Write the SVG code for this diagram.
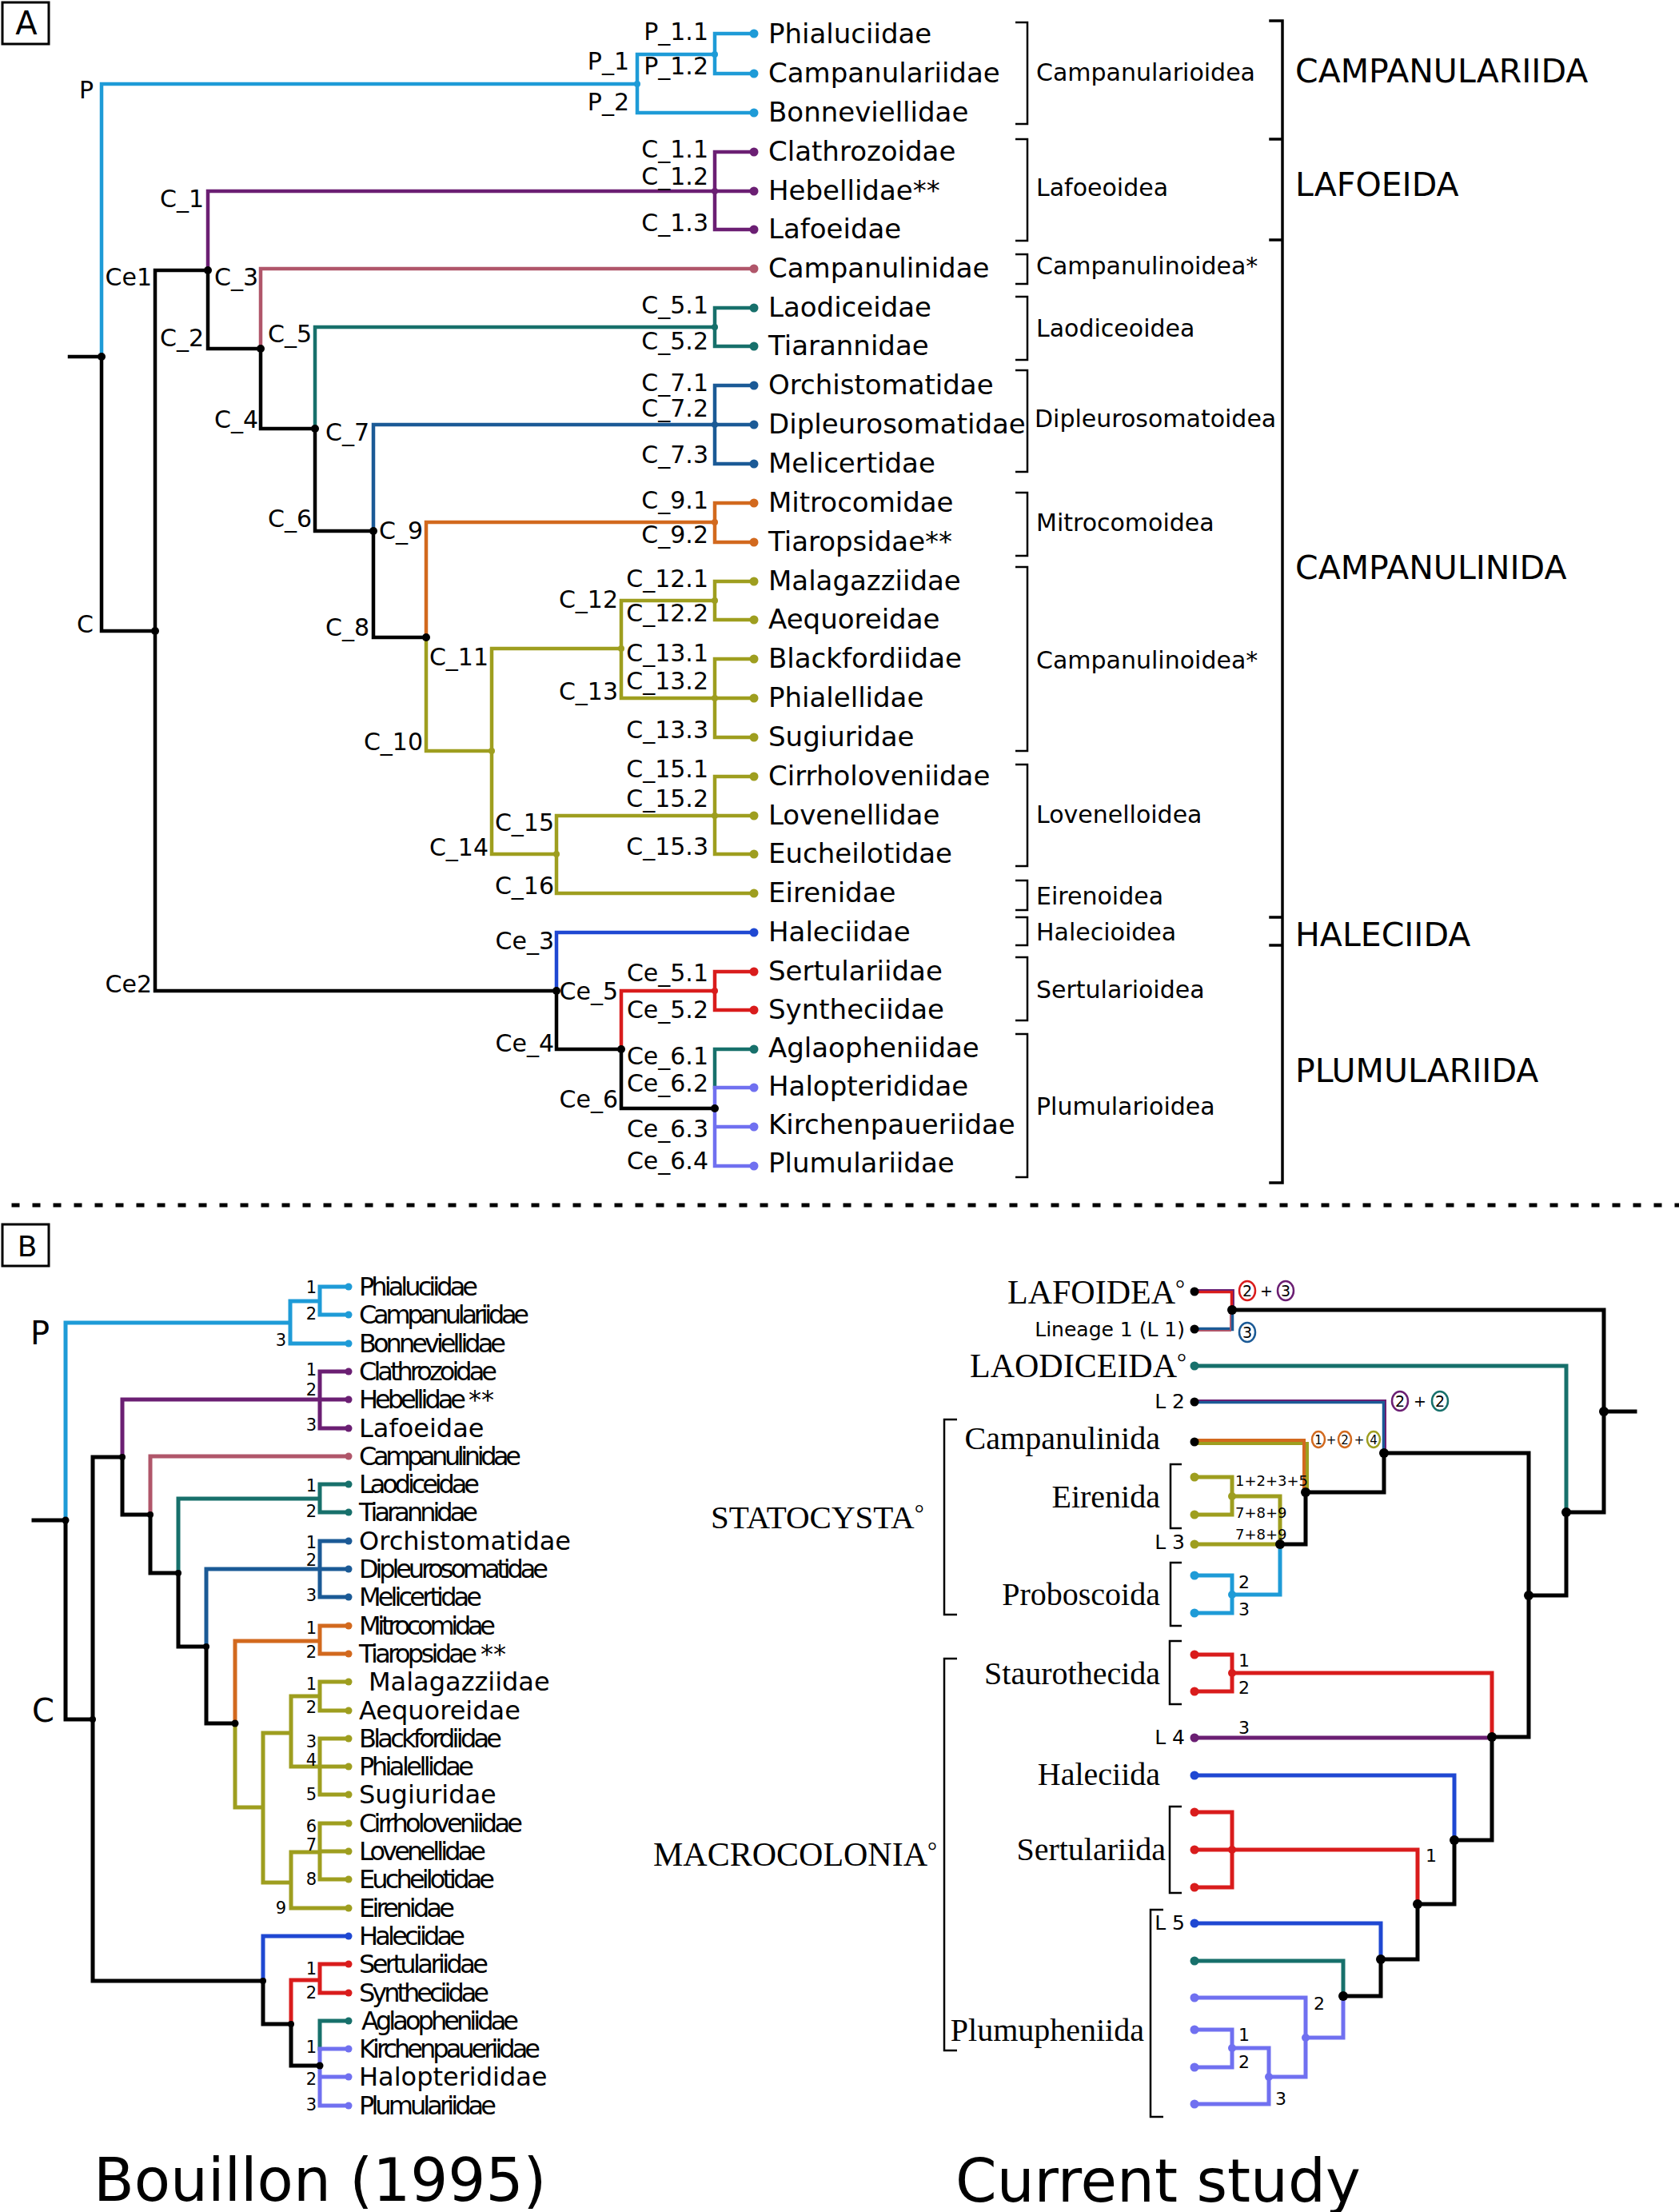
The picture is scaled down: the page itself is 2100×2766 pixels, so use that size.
<svg xmlns="http://www.w3.org/2000/svg" width="2100" height="2766" viewBox="0 0 2100 2766">
<style>
text{font-family:"DejaVu Sans",sans-serif;fill:#000}
.tip{font-size:34px}
.nl{font-size:30px;text-anchor:end}
.sf{font-size:30px}
.ord{font-size:41px}
.bl{font-size:32px}
.num{font-size:21px;text-anchor:end}
.sr{font-family:"Liberation Serif","Times New Roman",serif;font-size:40px}
.srC{font-family:"Liberation Serif","Times New Roman",serif;font-size:42px}
.dg{font-size:30px}
.ln{font-size:25px;text-anchor:end}
.big{font-size:74px}
.cn{font-size:19px;text-anchor:middle}
.cs{font-size:15px;text-anchor:middle}
.sm{font-size:18px}
.d22{font-size:22px}
path{fill:none;stroke-linejoin:miter;stroke-linecap:square}
.a{stroke-width:4.5}
.b{stroke-width:5}
.r{stroke-width:5}
.br{stroke:#000;stroke-width:2.5;stroke-linecap:butt}
.k{stroke:#000}.cy{stroke:#1e9bd7}.pu{stroke:#6b1f73}.pk{stroke:#b0566a}.te{stroke:#17706b}.db{stroke:#1b5a96}.or{stroke:#d2691e}.ol{stroke:#9e9e1f}.bu{stroke:#1f48d2}.rd{stroke:#d91c1c}.lv{stroke:#7070f0}
.fk{fill:#000}.fcy{fill:#1e9bd7}.fpu{fill:#6b1f73}.fpk{fill:#b0566a}.fte{fill:#17706b}.fdb{fill:#1b5a96}.for{fill:#d2691e}.fol{fill:#9e9e1f}.fbu{fill:#1f48d2}.frd{fill:#d91c1c}.flv{fill:#7070f0}
.circ{fill:none;stroke-width:2.5}
</style>

<!-- ================= PANEL A ================= -->
<g id="panelA-label">
<rect x="3" y="3" width="58" height="52" fill="none" stroke="#000" stroke-width="3"/>
<text x="33" y="43" style="font-size:40px" text-anchor="middle">A</text>
</g>

<g id="connectorsA">
<path class="a k" d="M87 446 H127 M127 446 V789 H194 M260 338 H194 V1239 H696 M260 338 V436 H326 M326 436 V536 H394 M394 536 V664 H467 M467 664 V797 H533 M696 1239 V1312 H777 M777 1312 V1386 H894"/>
<path class="a cy" d="M127 446 V105 H797 M797 68 V141 H943 M797 68 H894 M943 42 H894 V92 H943"/>
<path class="a pu" d="M260 338 V239 H943 M943 190 H894 V287 H943"/>
<path class="a pk" d="M326 436 V336 H943"/>
<path class="a te" d="M394 536 V409 H894 M943 385 H894 V433 H943"/>
<path class="a db" d="M467 664 V531 H943 M943 482 H894 V580 H943"/>
<path class="a or" d="M533 797 V653 H894 M943 629 H894 V678 H943"/>
<path class="a ol" d="M533 797 V939 H615 M615 811 V1068 H696 M615 811 H777 M777 751 V873 H943 M777 751 H894 M943 727 H894 V775 H943 M943 824 H894 V922 H943 M696 1020 V1117 H943 M696 1020 H943 M943 971 H894 V1068 H943"/>
<path class="a bu" d="M696 1239 V1166 H943"/>
<path class="a rd" d="M777 1312 V1239 H894 M943 1215 H894 V1263 H943"/>
<path class="a te" d="M943 1312 H894 V1360"/>
<path class="a lv" d="M894 1360 V1458 H943 M894 1360 H943 M894 1409 H943"/>
<g class="fk"><circle cx="127" cy="446" r="5"/><circle cx="194" cy="789" r="5"/><circle cx="260" cy="338" r="5"/><circle cx="326" cy="436" r="5"/><circle cx="394" cy="536" r="5"/><circle cx="467" cy="664" r="5"/><circle cx="533" cy="797" r="5"/><circle cx="696" cy="1239" r="5"/><circle cx="777" cy="1312" r="5"/><circle cx="894" cy="1386" r="5"/></g>
<circle class="fcy" cx="797" cy="105" r="4"/><circle class="fcy" cx="894" cy="68" r="4"/>
<circle class="fpu" cx="894" cy="239" r="4"/><circle class="fte" cx="894" cy="409" r="4"/>
<circle class="fdb" cx="894" cy="531" r="4"/><circle class="for" cx="894" cy="653" r="4"/>
<g class="fol"><circle cx="777" cy="811" r="4"/><circle cx="894" cy="751" r="4"/><circle cx="894" cy="873" r="4"/><circle cx="615" cy="939" r="4"/><circle cx="696" cy="1068" r="4"/><circle cx="894" cy="1020" r="4"/></g>
<circle class="frd" cx="894" cy="1239" r="4"/>
</g>

<g id="nodelabelsA">
<text class="nl" x="117" y="123">P</text>
<text class="nl" x="787" y="87">P_1</text>
<text class="nl" x="787" y="138">P_2</text>
<text class="nl" x="886" y="50">P_1.1</text>
<text class="nl" x="886" y="93">P_1.2</text>
<text class="nl" x="255" y="259">C_1</text>
<text class="nl" x="886" y="197">C_1.1</text>
<text class="nl" x="886" y="231">C_1.2</text>
<text class="nl" x="886" y="289">C_1.3</text>
<text class="nl" x="190" y="357">Ce1</text>
<text class="nl" x="323" y="357">C_3</text>
<text class="nl" x="255" y="433">C_2</text>
<text class="nl" x="390" y="428">C_5</text>
<text class="nl" x="886" y="392">C_5.1</text>
<text class="nl" x="886" y="437">C_5.2</text>
<text class="nl" x="323" y="535">C_4</text>
<text class="nl" x="462" y="551">C_7</text>
<text class="nl" x="886" y="489">C_7.1</text>
<text class="nl" x="886" y="521">C_7.2</text>
<text class="nl" x="886" y="579">C_7.3</text>
<text class="nl" x="390" y="659">C_6</text>
<text class="nl" x="529" y="674">C_9</text>
<text class="nl" x="886" y="636">C_9.1</text>
<text class="nl" x="886" y="679">C_9.2</text>
<text class="nl" x="773" y="760">C_12</text>
<text class="nl" x="886" y="734">C_12.1</text>
<text class="nl" x="886" y="777">C_12.2</text>
<text class="nl" x="117" y="791">C</text>
<text class="nl" x="462" y="795">C_8</text>
<text class="nl" x="611" y="832">C_11</text>
<text class="nl" x="886" y="827">C_13.1</text>
<text class="nl" x="773" y="875">C_13</text>
<text class="nl" x="886" y="862">C_13.2</text>
<text class="nl" x="886" y="923">C_13.3</text>
<text class="nl" x="529" y="938">C_10</text>
<text class="nl" x="886" y="972">C_15.1</text>
<text class="nl" x="886" y="1009">C_15.2</text>
<text class="nl" x="693" y="1039">C_15</text>
<text class="nl" x="611" y="1070">C_14</text>
<text class="nl" x="886" y="1069">C_15.3</text>
<text class="nl" x="693" y="1118">C_16</text>
<text class="nl" x="693" y="1187">Ce_3</text>
<text class="nl" x="886" y="1227">Ce_5.1</text>
<text class="nl" x="773" y="1250">Ce_5</text>
<text class="nl" x="190" y="1241">Ce2</text>
<text class="nl" x="886" y="1273">Ce_5.2</text>
<text class="nl" x="693" y="1315">Ce_4</text>
<text class="nl" x="886" y="1331">Ce_6.1</text>
<text class="nl" x="886" y="1365">Ce_6.2</text>
<text class="nl" x="773" y="1385">Ce_6</text>
<text class="nl" x="886" y="1422">Ce_6.3</text>
<text class="nl" x="886" y="1462">Ce_6.4</text>
</g>

<g id="tipsA">
<g id="A-t0"><circle class="fcy" cx="943" cy="42" r="5.5"/><text class="tip" x="961" y="54">Phialuciidae</text></g>
<g id="A-t1"><circle class="fcy" cx="943" cy="92" r="5.5"/><text class="tip" x="961" y="103">Campanulariidae</text></g>
<g id="A-t2"><circle class="fcy" cx="943" cy="141" r="5.5"/><text class="tip" x="961" y="152">Bonneviellidae</text></g>
<g id="A-t3"><circle class="fpu" cx="943" cy="190" r="5.5"/><text class="tip" x="961" y="201">Clathrozoidae</text></g>
<g id="A-t4"><circle class="fpu" cx="943" cy="239" r="5.5"/><text class="tip" x="961" y="250">Hebellidae**</text></g>
<g id="A-t5"><circle class="fpu" cx="943" cy="287" r="5.5"/><text class="tip" x="961" y="298">Lafoeidae</text></g>
<g id="A-t6"><circle class="fpk" cx="943" cy="336" r="5.5"/><text class="tip" x="961" y="347">Campanulinidae</text></g>
<g id="A-t7"><circle class="fte" cx="943" cy="385" r="5.5"/><text class="tip" x="961" y="396">Laodiceidae</text></g>
<g id="A-t8"><circle class="fte" cx="943" cy="433" r="5.5"/><text class="tip" x="961" y="444">Tiarannidae</text></g>
<g id="A-t9"><circle class="fdb" cx="943" cy="482" r="5.5"/><text class="tip" x="961" y="493">Orchistomatidae</text></g>
<g id="A-t10"><circle class="fdb" cx="943" cy="531" r="5.5"/><text class="tip" x="961" y="542">Dipleurosomatidae</text></g>
<g id="A-t11"><circle class="fdb" cx="943" cy="580" r="5.5"/><text class="tip" x="961" y="591">Melicertidae</text></g>
<g id="A-t12"><circle class="for" cx="943" cy="629" r="5.5"/><text class="tip" x="961" y="640">Mitrocomidae</text></g>
<g id="A-t13"><circle class="for" cx="943" cy="678" r="5.5"/><text class="tip" x="961" y="689">Tiaropsidae**</text></g>
<g id="A-t14"><circle class="fol" cx="943" cy="727" r="5.5"/><text class="tip" x="961" y="738">Malagazziidae</text></g>
<g id="A-t15"><circle class="fol" cx="943" cy="775" r="5.5"/><text class="tip" x="961" y="786">Aequoreidae</text></g>
<g id="A-t16"><circle class="fol" cx="943" cy="824" r="5.5"/><text class="tip" x="961" y="835">Blackfordiidae</text></g>
<g id="A-t17"><circle class="fol" cx="943" cy="873" r="5.5"/><text class="tip" x="961" y="884">Phialellidae</text></g>
<g id="A-t18"><circle class="fol" cx="943" cy="922" r="5.5"/><text class="tip" x="961" y="933">Sugiuridae</text></g>
<g id="A-t19"><circle class="fol" cx="943" cy="971" r="5.5"/><text class="tip" x="961" y="982">Cirrholoveniidae</text></g>
<g id="A-t20"><circle class="fol" cx="943" cy="1020" r="5.5"/><text class="tip" x="961" y="1031">Lovenellidae</text></g>
<g id="A-t21"><circle class="fol" cx="943" cy="1068" r="5.5"/><text class="tip" x="961" y="1079">Eucheilotidae</text></g>
<g id="A-t22"><circle class="fol" cx="943" cy="1117" r="5.5"/><text class="tip" x="961" y="1128">Eirenidae</text></g>
<g id="A-t23"><circle class="fbu" cx="943" cy="1166" r="5.5"/><text class="tip" x="961" y="1177">Haleciidae</text></g>
<g id="A-t24"><circle class="frd" cx="943" cy="1215" r="5.5"/><text class="tip" x="961" y="1226">Sertulariidae</text></g>
<g id="A-t25"><circle class="frd" cx="943" cy="1263" r="5.5"/><text class="tip" x="961" y="1274">Syntheciidae</text></g>
<g id="A-t26"><circle class="fte" cx="943" cy="1312" r="5.5"/><text class="tip" x="961" y="1322">Aglaopheniidae</text></g>
<g id="A-t27"><circle class="flv" cx="943" cy="1360" r="5.5"/><text class="tip" x="961" y="1370">Halopterididae</text></g>
<g id="A-t28"><circle class="flv" cx="943" cy="1409" r="5.5"/><text class="tip" x="961" y="1418">Kirchenpaueriidae</text></g>
<g id="A-t29"><circle class="flv" cx="943" cy="1458" r="5.5"/><text class="tip" x="961" y="1466">Plumulariidae</text></g>
</g>

<g id="superfamiliesA">
<path class="br" d="M1270 28 H1285 V155 H1270 M1270 174 H1285 V301 H1270 M1270 318 H1285 V355 H1270 M1270 371 H1285 V450 H1270 M1270 463 H1285 V590 H1270 M1270 616 H1285 V695 H1270 M1270 709 H1285 V939 H1270 M1270 956 H1285 V1083 H1270 M1270 1101 H1285 V1138 H1270 M1270 1147 H1285 V1182 H1270 M1270 1197 H1285 V1276 H1270 M1270 1293 H1285 V1472 H1270"/>
<text class="sf" x="1296" y="101">Campanularioidea</text>
<text class="sf" x="1296" y="245">Lafoeoidea</text>
<text class="sf" x="1296" y="343">Campanulinoidea*</text>
<text class="sf" x="1296" y="421">Laodiceoidea</text>
<text class="sf" x="1294" y="534">Dipleurosomatoidea</text>
<text class="sf" x="1296" y="664">Mitrocomoidea</text>
<text class="sf" x="1296" y="836">Campanulinoidea*</text>
<text class="sf" x="1296" y="1029">Lovenelloidea</text>
<text class="sf" x="1296" y="1131">Eirenoidea</text>
<text class="sf" x="1296" y="1176">Halecioidea</text>
<text class="sf" x="1296" y="1248">Sertularioidea</text>
<text class="sf" x="1296" y="1394">Plumularioidea</text>
</g>

<g id="ordersA">
<path d="M1589 26 H1604 V1479 H1589 M1589 174 H1604 M1589 300 H1604 M1589 1147 H1604 M1589 1182 H1604" stroke="#000" stroke-width="3.5" stroke-linecap="butt"/>
<text class="ord" x="1620" y="103">CAMPANULARIIDA</text>
<text class="ord" x="1620" y="245">LAFOEIDA</text>
<text class="ord" x="1620" y="724">CAMPANULINIDA</text>
<text class="ord" x="1620" y="1183">HALECIIDA</text>
<text class="ord" x="1620" y="1353">PLUMULARIIDA</text>
</g>

<g id="separator">
<path d="M17 1507 H2100" stroke="#000" stroke-width="5" stroke-dasharray="5 21" stroke-linecap="butt"/>
</g>

<!-- ================= PANEL B ================= -->
<g id="panelB-label">
<rect x="3" y="1531" width="58" height="52" fill="none" stroke="#000" stroke-width="3"/>
<text x="34" y="1571" style="font-size:36px" text-anchor="middle">B</text>
</g>

<g id="connectorsB-left">
<path class="b k" d="M42 1901 H82 M82 1901 V2150 H116 M153 1822 H116 V2477 H329 M153 1822 V1894 H188 M188 1894 V1967 H223 M223 1967 V2059 H258 M258 2059 V2155 H294 M329 2477 V2531 H364 M364 2531 V2583 H400"/>
<path class="b cy" d="M82 1901 V1654 H363 M363 1627 V1680 H436 M363 1627 H400 M436 1609 H400 V1644 H436"/>
<path class="b pu" d="M153 1822 V1750 H436 M436 1715 H400 V1786 H436"/>
<path class="b pk" d="M188 1894 V1821 H436"/>
<path class="b te" d="M223 1967 V1874 H400 M436 1856 H400 V1891 H436"/>
<path class="b db" d="M258 2059 V1962 H436 M436 1927 H400 V1997 H436"/>
<path class="b or" d="M294 2155 V2052 H400 M436 2033 H400 V2068 H436"/>
<path class="b ol" d="M294 2155 V2260 H329 M329 2167 V2354 H364 M329 2167 H364 M364 2121 V2209 H436 M364 2121 H400 M436 2103 H400 V2139 H436 M436 2174 H400 V2244 H436 M364 2316 V2386 H436 M364 2316 H400 M436 2280 H400 V2350 H436 M400 2315 H436"/>
<path class="b bu" d="M329 2477 V2421 H436"/>
<path class="b rd" d="M364 2531 V2476 H400 M436 2456 H400 V2492 H436"/>
<path class="b te" d="M436 2527 H400 V2562"/>
<path class="b lv" d="M400 2562 V2633 H436 M400 2562 H436 M400 2597 H436"/>
<g class="fk"><circle cx="82" cy="1901" r="4.5"/><circle cx="116" cy="2150" r="4"/><circle cx="153" cy="1822" r="4"/><circle cx="188" cy="1894" r="4"/><circle cx="223" cy="1967" r="4"/><circle cx="258" cy="2059" r="4"/><circle cx="294" cy="2155" r="4.5"/><circle cx="329" cy="2477" r="4"/><circle cx="364" cy="2531" r="4"/><circle cx="400" cy="2583" r="4.5"/></g>
</g>

<g id="labelsB-left">
<text x="38" y="1681" style="font-size:40px">P</text>
<text x="40" y="2153" style="font-size:40px">C</text>
<text class="num" x="396" y="1617">1</text><text class="num" x="396" y="1650">2</text><text class="num" x="358" y="1683">3</text>
<text class="num" x="396" y="1720">1</text><text class="num" x="396" y="1745">2</text><text class="num" x="396" y="1789">3</text>
<text class="num" x="396" y="1865">1</text><text class="num" x="396" y="1897">2</text>
<text class="num" x="396" y="1936">1</text><text class="num" x="396" y="1958">2</text><text class="num" x="396" y="2002">3</text>
<text class="num" x="396" y="2043">1</text><text class="num" x="396" y="2073">2</text>
<text class="num" x="396" y="2113">1</text><text class="num" x="396" y="2142">2</text>
<text class="num" x="396" y="2185">3</text><text class="num" x="396" y="2208">4</text><text class="num" x="396" y="2251">5</text>
<text class="num" x="396" y="2291">6</text><text class="num" x="396" y="2314">7</text><text class="num" x="396" y="2357">8</text>
<text class="num" x="358" y="2393">9</text>
<text class="num" x="396" y="2469">1</text><text class="num" x="396" y="2499">2</text>
<text class="num" x="396" y="2567">1</text><text class="num" x="396" y="2607">2</text><text class="num" x="396" y="2639">3</text>
</g>

<g id="tipsB-left">
<g id="B-t0"><circle class="fcy" cx="436" cy="1609" r="4.5"/><text class="bl" x="449" y="1620" textLength="149" lengthAdjust="spacing">Phialuciidae</text></g>
<g id="B-t1"><circle class="fcy" cx="436" cy="1644" r="4.5"/><text class="bl" x="449" y="1655" textLength="213" lengthAdjust="spacing">Campanulariidae</text></g>
<g id="B-t2"><circle class="fcy" cx="436" cy="1680" r="4.5"/><text class="bl" x="449" y="1691" textLength="184" lengthAdjust="spacing">Bonneviellidae</text></g>
<g id="B-t3"><circle class="fpu" cx="436" cy="1715" r="4.5"/><text class="bl" x="449" y="1726" textLength="173" lengthAdjust="spacing">Clathrozoidae</text></g>
<g id="B-t4"><circle class="fpu" cx="436" cy="1750" r="4.5"/><text class="bl" x="449" y="1761" textLength="134" lengthAdjust="spacing">Hebellidae</text><text class="bl" x="586" y="1761">**</text></g>
<g id="B-t5"><circle class="fpu" cx="436" cy="1786" r="4.5"/><text class="bl" x="449" y="1797">Lafoeidae</text></g>
<g id="B-t6"><circle class="fpk" cx="436" cy="1821" r="4.5"/><text class="bl" x="449" y="1832" textLength="203" lengthAdjust="spacing">Campanulinidae</text></g>
<g id="B-t7"><circle class="fte" cx="436" cy="1856" r="4.5"/><text class="bl" x="449" y="1867" textLength="151" lengthAdjust="spacing">Laodiceidae</text></g>
<g id="B-t8"><circle class="fte" cx="436" cy="1891" r="4.5"/><text class="bl" x="449" y="1902" textLength="149" lengthAdjust="spacing">Tiarannidae</text></g>
<g id="B-t9"><circle class="fdb" cx="436" cy="1927" r="4.5"/><text class="bl" x="449" y="1938">Orchistomatidae</text></g>
<g id="B-t10"><circle class="fdb" cx="436" cy="1962" r="4.5"/><text class="bl" x="449" y="1973" textLength="237" lengthAdjust="spacing">Dipleurosomatidae</text></g>
<g id="B-t11"><circle class="fdb" cx="436" cy="1997" r="4.5"/><text class="bl" x="449" y="2008" textLength="154" lengthAdjust="spacing">Melicertidae</text></g>
<g id="B-t12"><circle class="for" cx="436" cy="2033" r="4.5"/><text class="bl" x="449" y="2044" textLength="171" lengthAdjust="spacing">Mitrocomidae</text></g>
<g id="B-t13"><circle class="for" cx="436" cy="2068" r="4.5"/><text class="bl" x="449" y="2079" textLength="148" lengthAdjust="spacing">Tiaropsidae</text><text class="bl" x="601" y="2079">**</text></g>
<g id="B-t14"><circle class="fol" cx="436" cy="2103" r="4.5"/><text class="bl" x="461" y="2114">Malagazziidae</text></g>
<g id="B-t15"><circle class="fol" cx="436" cy="2139" r="4.5"/><text class="bl" x="449" y="2150">Aequoreidae</text></g>
<g id="B-t16"><circle class="fol" cx="436" cy="2174" r="4.5"/><text class="bl" x="449" y="2185" textLength="179" lengthAdjust="spacing">Blackfordiidae</text></g>
<g id="B-t17"><circle class="fol" cx="436" cy="2209" r="4.5"/><text class="bl" x="449" y="2220" textLength="144" lengthAdjust="spacing">Phialellidae</text></g>
<g id="B-t18"><circle class="fol" cx="436" cy="2244" r="4.5"/><text class="bl" x="449" y="2255">Sugiuridae</text></g>
<g id="B-t19"><circle class="fol" cx="436" cy="2280" r="4.5"/><text class="bl" x="449" y="2291" textLength="205" lengthAdjust="spacing">Cirrholoveniidae</text></g>
<g id="B-t20"><circle class="fol" cx="436" cy="2315" r="4.5"/><text class="bl" x="449" y="2326" textLength="159" lengthAdjust="spacing">Lovenellidae</text></g>
<g id="B-t21"><circle class="fol" cx="436" cy="2350" r="4.5"/><text class="bl" x="449" y="2361" textLength="170" lengthAdjust="spacing">Eucheilotidae</text></g>
<g id="B-t22"><circle class="fol" cx="436" cy="2386" r="4.5"/><text class="bl" x="449" y="2397" textLength="120" lengthAdjust="spacing">Eirenidae</text></g>
<g id="B-t23"><circle class="fbu" cx="436" cy="2421" r="4.5"/><text class="bl" x="449" y="2432" textLength="133" lengthAdjust="spacing">Haleciidae</text></g>
<g id="B-t24"><circle class="frd" cx="436" cy="2456" r="4.5"/><text class="bl" x="449" y="2467" textLength="162" lengthAdjust="spacing">Sertulariidae</text></g>
<g id="B-t25"><circle class="frd" cx="436" cy="2492" r="4.5"/><text class="bl" x="449" y="2503" textLength="163" lengthAdjust="spacing">Syntheciidae</text></g>
<g id="B-t26"><circle class="fte" cx="436" cy="2527" r="4.5"/><text class="bl" x="452" y="2538" textLength="197" lengthAdjust="spacing">Aglaopheniidae</text></g>
<g id="B-t27"><circle class="flv" cx="436" cy="2562" r="4.5"/><text class="bl" x="449" y="2573" textLength="227" lengthAdjust="spacing">Kirchenpaueriidae</text></g>
<g id="B-t28"><circle class="flv" cx="436" cy="2597" r="4.5"/><text class="bl" x="449" y="2608">Halopterididae</text></g>
<g id="B-t29"><circle class="flv" cx="436" cy="2633" r="4.5"/><text class="bl" x="449" y="2644" textLength="172" lengthAdjust="spacing">Plumulariidae</text></g>
</g>

<text class="big" x="117" y="2752">Bouillon (1995)</text>

<!-- ================= PANEL B right ================= -->
<g id="connectorsB-right">
<path class="r te" d="M1494 1708 H1959 V1891"/>
<path class="r k" d="M1541 1638 H2006 V1891 H1959 M2006 1765 H2045 M1731 1817 V1866 H1633 M1731 1817 H1912 V2172 H1866 M1633 1866 V1931 H1601 M1959 1891 V1995 H1912 M1866 2172 V2301 H1819 M1819 2301 V2381 H1773 M1773 2381 V2450 H1727 M1727 2450 V2496 H1680"/>
<path class="rd" stroke-width="4.5" d="M1494 1615 H1541 V1638"/>
<path class="pu" stroke-width="1.8" d="M1494 1613 H1543 V1632"/>
<path class="db" stroke-width="4.5" d="M1494 1662 H1541 V1638"/>
<path class="pk" stroke-width="1.8" d="M1494 1664 H1539 V1642"/>
<path class="db" stroke-width="4.5" d="M1494 1753 H1731 V1817"/>
<path class="pu" stroke-width="2" d="M1494 1751 H1733 V1811"/>
<path class="ol" stroke-width="4" d="M1494 1805 H1635 V1866"/>
<path class="or" stroke-width="4" d="M1494 1801 H1631 V1866"/>
<path class="r ol" d="M1494 1847 H1541 V1894 H1494 M1541 1871 H1601 V1931 H1494"/>
<path class="r cy" d="M1601 1931 V1994 H1541 M1494 1970 H1541 V2017 H1494"/>
<path class="r rd" d="M1494 2069 H1541 V2115 H1494 M1541 2092 H1866 V2172"/>
<path class="r pu" d="M1494 2173 H1866"/>
<path class="r bu" d="M1494 2220 H1819 V2301"/>
<path class="r rd" d="M1494 2266 H1541 V2360 H1494 M1494 2313 H1773 V2381"/>
<path class="r bu" d="M1494 2405 H1727 V2450"/>
<path class="r te" d="M1494 2452 H1680 V2496"/>
<path class="r lv" d="M1680 2496 V2548 H1633 M1494 2498 H1633 V2597 H1587 M1494 2538 H1541 V2585 H1494 M1541 2561 H1587 V2631 H1494"/>
<g class="fk"><circle cx="1541" cy="1638" r="6"/><circle cx="2006" cy="1765" r="6"/><circle cx="1959" cy="1891" r="6"/><circle cx="1731" cy="1817" r="6"/><circle cx="1633" cy="1866" r="6"/><circle cx="1601" cy="1931" r="6"/><circle cx="1912" cy="1995" r="6"/><circle cx="1866" cy="2172" r="6"/><circle cx="1819" cy="2301" r="6"/><circle cx="1773" cy="2381" r="6"/><circle cx="1727" cy="2450" r="6"/><circle cx="1680" cy="2496" r="6"/></g>
<circle class="fol" cx="1541" cy="1871" r="5"/><circle class="fcy" cx="1541" cy="1994" r="5"/>
<circle class="frd" cx="1541" cy="2092" r="5"/><circle class="frd" cx="1541" cy="2313" r="5"/>
<circle class="flv" cx="1541" cy="2561" r="5"/><circle class="flv" cx="1587" cy="2597" r="5"/><circle class="flv" cx="1633" cy="2548" r="5"/>
</g>

<g id="markersB-right">
<ellipse class="circ rd" cx="1560" cy="1614" rx="10" ry="12"/><text class="cn" x="1560" y="1621">2</text>
<text class="cn" x="1584" y="1621">+</text>
<ellipse class="circ pu" cx="1608" cy="1614" rx="10" ry="12"/><text class="cn" x="1608" y="1621">3</text>
<ellipse class="circ db" cx="1560" cy="1666" rx="10" ry="12"/><text class="cn" x="1560" y="1673">3</text>
<ellipse class="circ pu" cx="1751" cy="1752" rx="10" ry="12"/><text class="cn" x="1751" y="1759">2</text>
<text class="cn" x="1776" y="1759">+</text>
<ellipse class="circ te" cx="1801" cy="1752" rx="10" ry="12"/><text class="cn" x="1801" y="1759">2</text>
<ellipse class="circ or" cx="1649" cy="1800" rx="8" ry="10" stroke-width="2"/><text class="cs" x="1649" y="1806">1</text>
<text class="cs" x="1665" y="1806">+</text>
<ellipse class="circ or" cx="1682" cy="1800" rx="8" ry="10" stroke-width="2"/><text class="cs" x="1682" y="1806">2</text>
<text class="cs" x="1700" y="1806">+</text>
<ellipse class="circ ol" cx="1718" cy="1800" rx="8" ry="10" stroke-width="2"/><text class="cs" x="1718" y="1806">4</text>
<text class="sm" x="1545" y="1858">1+2+3+5</text>
<text class="sm" x="1545" y="1898">7+8+9</text>
<text class="sm" x="1545" y="1925">7+8+9</text>
<text class="d22" x="1549" y="1986">2</text>
<text class="d22" x="1549" y="2020">3</text>
<text class="d22" x="1549" y="2084">1</text>
<text class="d22" x="1549" y="2118">2</text>
<text class="d22" x="1549" y="2168">3</text>
<text class="d22" x="1783" y="2328">1</text>
<text class="d22" x="1643" y="2513">2</text>
<text class="d22" x="1549" y="2552">1</text>
<text class="d22" x="1549" y="2586">2</text>
<text class="d22" x="1595" y="2632">3</text>
</g>

<g id="tipsB-right">
<g id="R-lafoidea"><circle class="fk" cx="1494" cy="1615" r="5.5"/><text class="srC" x="1482" y="1630" text-anchor="end">LAFOIDEA<tspan class="dg" dy="-9">°</tspan></text></g>
<g id="R-L1"><circle class="fk" cx="1494" cy="1662" r="5.5"/><text class="ln" x="1482" y="1671">Lineage 1 (L 1)</text></g>
<g id="R-laodiceida"><circle class="fte" cx="1494" cy="1708" r="5.5"/><text class="srC" x="1484" y="1722" text-anchor="end">LAODICEIDA<tspan class="dg" dy="-9">°</tspan></text></g>
<g id="R-L2"><circle class="fk" cx="1494" cy="1753" r="5.5"/><text class="ln" x="1482" y="1761">L 2</text></g>
<g id="R-campanulinida"><circle class="fk" cx="1494" cy="1803" r="5.5"/><text class="sr" x="1451" y="1812" text-anchor="end">Campanulinida</text></g>
<g id="R-eirenida"><circle class="fol" cx="1494" cy="1847" r="5.5"/><circle class="fol" cx="1494" cy="1894" r="5.5"/><text class="sr" x="1451" y="1885" text-anchor="end">Eirenida</text><path class="br" d="M1478 1831 H1464 V1911 H1478"/></g>
<g id="R-L3"><circle class="fol" cx="1494" cy="1931" r="5.5"/><text class="ln" x="1482" y="1937">L 3</text></g>
<g id="R-proboscoida"><circle class="fcy" cx="1494" cy="1970" r="5.5"/><circle class="fcy" cx="1494" cy="2017" r="5.5"/><text class="sr" x="1451" y="2007" text-anchor="end">Proboscoida</text><path class="br" d="M1478 1954 H1464 V2033 H1478"/></g>
<g id="R-statocysta"><text class="sr" x="889" y="1911" style="font-size:41px">STATOCYSTA<tspan class="dg" dy="-9">°</tspan></text><path class="br" d="M1197 1775 H1181 V2019 H1197"/></g>
<g id="R-staurothecida"><circle class="frd" cx="1494" cy="2069" r="5.5"/><circle class="frd" cx="1494" cy="2115" r="5.5"/><text class="sr" x="1451" y="2106" text-anchor="end">Staurothecida</text><path class="br" d="M1478 2052 H1463 V2131 H1478"/></g>
<g id="R-L4"><circle class="fpu" cx="1494" cy="2173" r="5.5"/><text class="ln" x="1482" y="2181">L 4</text></g>
<g id="R-haleciida"><circle class="fbu" cx="1494" cy="2220" r="5.5"/><text class="sr" x="1451" y="2232" text-anchor="end">Haleciida</text></g>
<g id="R-sertulariida"><circle class="frd" cx="1494" cy="2266" r="5.5"/><circle class="frd" cx="1494" cy="2313" r="5.5"/><circle class="frd" cx="1494" cy="2360" r="5.5"/><text class="sr" x="1458" y="2326" text-anchor="end">Sertulariida</text><path class="br" d="M1478 2259 H1463 V2367 H1478"/></g>
<g id="R-L5"><circle class="fbu" cx="1494" cy="2405" r="5.5"/><text class="ln" x="1482" y="2413">L 5</text></g>
<g id="R-plumupheniida"><circle class="fte" cx="1494" cy="2452" r="5.5"/><circle class="flv" cx="1494" cy="2498" r="5.5"/><circle class="flv" cx="1494" cy="2538" r="5.5"/><circle class="flv" cx="1494" cy="2585" r="5.5"/><circle class="flv" cx="1494" cy="2631" r="5.5"/><text class="sr" x="1431" y="2552" text-anchor="end">Plumupheniida</text><path class="br" d="M1455 2388 H1439 V2647 H1455"/></g>
<g id="R-macrocolonia"><text class="srC" x="817" y="2333">MACROCOLONIA<tspan class="dg" dy="-9">°</tspan></text><path class="br" d="M1197 2074 H1181 V2564 H1197"/></g>
</g>

<text class="big" x="1195" y="2753">Current study</text>
</svg>
